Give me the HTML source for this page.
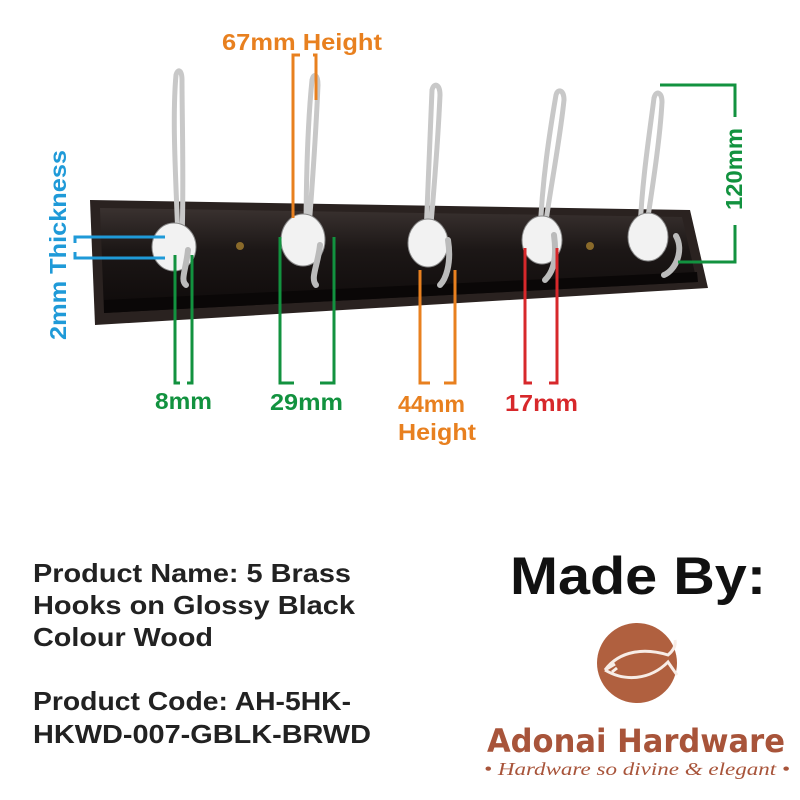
<!DOCTYPE html>
<html><head><style>
html,body{margin:0;padding:0;background:#fff;}
svg{display:block;}
</style></head><body>
<svg width="800" height="800" viewBox="0 0 800 800" xmlns="http://www.w3.org/2000/svg" font-family="Liberation Sans, sans-serif" font-weight="bold">
<defs>
<linearGradient id="wood" x1="0" y1="0" x2="0" y2="1">
<stop offset="0" stop-color="#3a3230"/><stop offset="0.4" stop-color="#1c1716"/><stop offset="1" stop-color="#0e0a0a"/>
</linearGradient>
</defs>
<polygon points="90,200 690,210 708,288 95,325" fill="#2a2220"/>
<polygon points="100,208 682,217 697,282 104,313" fill="url(#wood)"/>
<polygon points="104,300 697,272 698,282 104,313" fill="#0a0707"/>
<circle cx="240" cy="246" r="4" fill="#8a6a2a"/>
<circle cx="590" cy="246" r="4" fill="#8a6a2a"/>
<g fill="none" stroke-linecap="round" stroke="#c8c8c8" stroke-width="5">
<path d="M178,240 C176,180 172,120 176,75 C178,68 182,70 182,80 C182,120 184,180 182,240"/>
<path d="M306,240 C306,180 308,120 312,80 C314,72 318,75 318,85 C316,130 312,190 308,240"/>
<path d="M426,235 C428,180 430,130 432,90 C434,82 440,84 440,95 C438,140 434,190 430,235"/>
<path d="M540,235 C542,180 550,130 556,95 C558,88 564,90 564,100 C560,140 550,190 544,235"/>
<path d="M640,230 C642,180 650,130 654,98 C656,90 662,92 662,102 C660,140 652,190 646,230"/>
</g>
<g fill="#f2f2f2" stroke="#888" stroke-width="1">
<ellipse cx="174" cy="247" rx="22" ry="24"/>
<ellipse cx="303" cy="240" rx="22" ry="26"/>
<ellipse cx="428" cy="243" rx="20" ry="24"/>
<ellipse cx="542" cy="240" rx="20" ry="24"/>
<ellipse cx="648" cy="237" rx="20" ry="24"/>
</g>
<g stroke="#bbb" stroke-width="6" fill="none" stroke-linecap="round">
<path d="M188,250 C186,270 180,280 186,285"/>
<path d="M320,245 C318,265 310,278 316,285"/>
<path d="M448,240 C452,265 445,280 440,285"/>
<path d="M554,235 C558,265 550,275 545,280"/>
<path d="M676,236 C684,250 676,270 664,275"/>
</g>
<g fill="none" stroke-width="3">
<path d="M293,218 V55 H300 M313,55 H316 V100" stroke="#e8801f"/>
<path d="M660,85 H735 V117 M735,225 V262 H678" stroke="#12923f"/>
<path d="M165,237 H75 V243 M165,258 H75 V252" stroke="#1f9ad8"/>
<path d="M175,255 V383 H180 M187,383 H192 V255" stroke="#12923f"/>
<path d="M280,237 V383 H294 M320,383 H334 V237" stroke="#12923f"/>
<path d="M420,270 V383 H430 M444,383 H455 V270" stroke="#e8801f"/>
<path d="M525,248 V383 H532 M549,383 H557 V248" stroke="#d7282b"/>
</g>
<g font-size="23">
<text x="222" y="50" fill="#e8801f" textLength="160" lengthAdjust="spacingAndGlyphs">67mm Height</text>
<text x="155" y="409" fill="#12923f" textLength="57" lengthAdjust="spacingAndGlyphs">8mm</text>
<text x="270" y="410" fill="#12923f" textLength="73" lengthAdjust="spacingAndGlyphs">29mm</text>
<text x="398" y="412" fill="#e8801f" textLength="67" lengthAdjust="spacingAndGlyphs">44mm</text>
<text x="398" y="440" fill="#e8801f" textLength="78" lengthAdjust="spacingAndGlyphs">Height</text>
<text x="505" y="411" fill="#d7282b" textLength="73" lengthAdjust="spacingAndGlyphs">17mm</text>
<text transform="translate(742,210) rotate(-90)" fill="#12923f" textLength="82" lengthAdjust="spacingAndGlyphs">120mm</text>
<text transform="translate(66,340) rotate(-90)" fill="#1f9ad8" textLength="190" lengthAdjust="spacingAndGlyphs">2mm Thickness</text>
</g>
<g font-size="26" fill="#222">
<text x="33" y="582" textLength="318" lengthAdjust="spacingAndGlyphs">Product Name: 5 Brass</text>
<text x="33" y="614" textLength="322" lengthAdjust="spacingAndGlyphs">Hooks on Glossy Black</text>
<text x="33" y="646" textLength="180" lengthAdjust="spacingAndGlyphs">Colour Wood</text>
<text x="33" y="710" textLength="318" lengthAdjust="spacingAndGlyphs">Product Code: AH-5HK-</text>
<text x="33" y="743" textLength="338" lengthAdjust="spacingAndGlyphs">HKWD-007-GBLK-BRWD</text>
</g>
<text x="510" y="594" font-size="53" fill="#111" textLength="256" lengthAdjust="spacingAndGlyphs">Made By:</text>
<circle cx="637" cy="663" r="40" fill="#b0603f"/>
<path d="M605,670 C620,650 645,648 668,655 C674,650 676,645 675,640 M605,670 C625,682 650,680 668,662 C672,668 675,672 677,675 M605,670 l10,-6 M612,672 l5,-4" stroke="#f7ece6" stroke-width="3" fill="none"/>
<text x="487" y="752" font-size="32" fill="#a8543a" font-family="DejaVu Sans, sans-serif" font-weight="bold" textLength="298" lengthAdjust="spacingAndGlyphs">Adonai Hardware</text>
<text x="484" y="775" font-size="18" fill="#a8543a" font-family="Liberation Serif, serif" font-style="italic" font-weight="normal" textLength="306" lengthAdjust="spacingAndGlyphs">• Hardware so divine &amp; elegant •</text>
</svg>
</body></html>
